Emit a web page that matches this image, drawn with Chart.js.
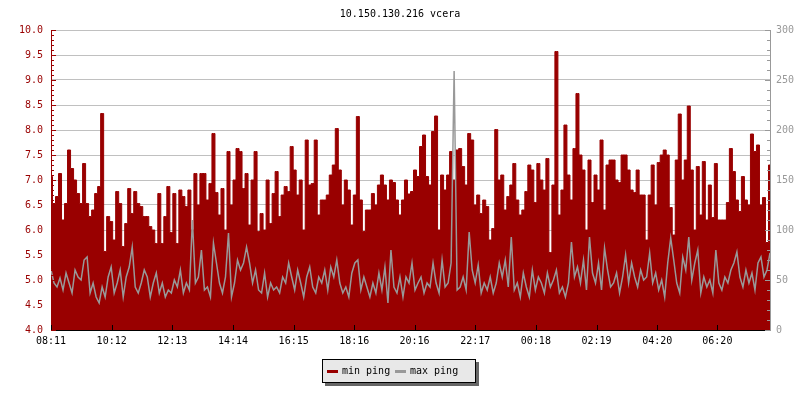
<!DOCTYPE html>
<html>
<head>
<meta charset="utf-8">
<title>10.150.130.216 vcera</title>
<script src="https://cdn.jsdelivr.net/npm/chart.js"></script>
<style>
    body { margin: 0; background: #fff; }
    #wrap { position: relative; width: 800px; height: 400px; }
    #legend {
        position: absolute; left: 322px; top: 359px;
        width: 152px; height: 22px;
        border: 1px solid #000; background: #e8e8e8;
        box-shadow: 3px 3px 0 #666;
        font: 10px "DejaVu Sans Mono", monospace; color: #000;
    }
    .item { position: absolute; top: 0; line-height: 22px; white-space: nowrap; }
    .sw { display: inline-block; width: 11px; height: 3px; vertical-align: middle; margin-right: 4px; }
</style>
</head>
<body>
<div id="wrap">
    <canvas id="pingChart" width="800" height="400"></canvas>
    <div id="legend">
        <span class="item" style="left:4px"><span class="sw" style="background:#990000"></span>min ping</span>
        <span class="item" style="left:72px"><span class="sw" style="background:#999999"></span>max ping</span>
    </div>
</div>
<script>
const title = "10.150.130.216 vcera";

// one sample every 6 minutes starting 08:11
const startTime = "08:11";
const stepMinutes = 6;

const xTickLabels = ["08:11", "10:12", "12:13", "14:14", "16:15", "18:16",
    "20:16", "22:17", "00:18", "02:19", "04:20", "06:20"];

// min ping, left axis (ms)
const minPing = [
    7.07, 6.53, 6.67, 7.13, 6.2, 6.53, 7.6, 7.23, 7.0, 6.73,
    6.53, 7.33, 6.53, 6.27, 6.4, 6.73, 6.87, 8.33, 5.57, 6.27,
    6.17, 5.8, 6.77, 6.53, 5.67, 6.13, 6.83, 6.33, 6.77, 6.53,
    6.47, 6.27, 6.27, 6.07, 6.0, 5.73, 6.73, 5.73, 6.27, 6.87,

    5.95, 6.73, 5.73, 6.8, 6.67, 6.47, 6.8, 6.0, 7.13, 6.5,
    7.13, 7.13, 6.6, 6.93, 7.93, 6.75, 6.3, 6.83, 6.0, 7.57,
    6.5, 7.0, 7.63, 7.57, 6.83, 7.13, 6.1, 7.0, 7.57, 5.97,
    6.33, 6.0, 7.0, 6.13, 6.73, 7.17, 6.27, 6.7, 6.87, 6.77,

    7.67, 7.2, 6.7, 7.0, 6.0, 7.8, 6.9, 6.93, 7.8, 6.3,
    6.6, 6.6, 6.7, 7.1, 7.3, 8.03, 7.2, 6.5, 7.0, 6.8,
    6.1, 6.7, 8.27, 6.6, 5.97, 6.4, 6.4, 6.73, 6.5, 6.9,
    7.1, 6.9, 6.6, 7.0, 6.95, 6.6, 6.3, 6.6, 7.0, 6.72,

    6.77, 7.2, 7.07, 7.67, 7.9, 7.07, 6.9, 7.97, 8.28, 6.0,
    7.1, 6.8, 7.1, 7.57, 7.0, 7.6, 7.63, 7.27, 6.9, 7.93,
    7.8, 6.5, 6.7, 6.33, 6.6, 6.47, 5.8, 6.03, 8.01, 7.0,
    7.1, 6.4, 6.67, 6.9, 7.33, 6.6, 6.3, 6.4, 6.77, 7.3,

    7.2, 6.55, 7.33, 7.0, 6.8, 7.43, 5.55, 6.9, 9.57, 6.3,
    6.8, 8.1, 7.1, 6.6, 7.63, 8.73, 7.5, 7.2, 6.0, 7.4,
    6.55, 7.1, 6.8, 7.8, 6.4, 7.3, 7.4, 7.4, 7.0, 6.95,
    7.5, 7.5, 7.2, 6.8, 6.75, 7.2, 6.7, 6.7, 5.8, 6.7,

    7.3, 6.5, 7.35, 7.5, 7.6, 7.5, 6.45, 5.9, 7.4, 8.32,
    7.0, 7.4, 8.48, 7.2, 6.0, 7.27, 6.3, 7.37, 6.2, 6.9,
    6.25, 7.33, 6.2, 6.2, 6.2, 6.55, 7.63, 7.17, 6.6, 6.37,
    7.07, 6.6, 6.5, 7.92, 7.57, 7.7, 6.5, 6.65, 5.75, 7.3
];

// max ping, right axis (ms)
const maxPing = [
    60, 47, 43, 52, 40, 57, 47, 37, 60, 53,
    50, 70, 73, 37, 47, 33, 27, 43, 33, 53,
    63, 37, 47, 60, 33, 53, 63, 83, 43, 37,
    47, 60, 53, 33, 47, 57, 37, 47, 33, 40,

    37, 50, 43, 60, 37, 47, 40, 110, 47, 53,
    80, 40, 43, 33, 87, 67, 47, 37, 53, 97,
    33, 47, 70, 60, 67, 83, 67, 47, 60, 40,
    37, 57, 33, 47, 40, 43, 37, 53, 47, 67,

    53, 40, 60, 47, 33, 53, 63, 43, 37, 53,
    47, 60, 40, 63, 53, 70, 47, 37, 43, 33,
    57, 67, 70, 40, 53, 43, 33, 47, 37, 57,
    40, 63, 27, 80, 43, 37, 53, 33, 53, 47,

    67, 40, 47, 53, 37, 47, 43, 67, 47, 37,
    70, 43, 47, 67, 259, 40, 43, 53, 40, 98,
    60, 47, 65, 37, 47, 40, 53, 37, 47, 67,
    53, 70, 43, 93, 40, 47, 33, 57, 43, 33,

    60, 40, 53, 47, 37, 57, 43, 50, 60, 37,
    43, 33, 47, 88, 53, 63, 47, 70, 40, 93,
    57, 47, 67, 40, 82, 60, 43, 47, 57, 37,
    53, 75, 47, 67, 53, 43, 60, 50, 53, 77,

    47, 57, 40, 50, 33, 67, 92, 70, 47, 37,
    73, 60, 93, 50, 67, 80, 37, 53, 43, 50,
    37, 80, 47, 40, 53, 47, 60, 67, 78, 53,
    43, 60, 47, 57, 40, 67, 73, 53, 60, 77
];

function toMinutes(t) {
    const parts = t.split(":");
    return parseInt(parts[0], 10) * 60 + parseInt(parts[1], 10);
}

const start = toMinutes(startTime);
const xTickValues = xTickLabels.map(t => (toMinutes(t) - start + 1440) % 1440);
const lastX = (minPing.length - 1) * stepMinutes;

const RED = "#990000";
const GRAY = "#999999";

Chart.defaults.font.family = '"DejaVu Sans Mono", monospace';
Chart.defaults.font.size = 10;
Chart.defaults.color = "#000";

// small tick marks drawn inside the plot, like the original
const innerTicks = {
    id: "innerTicks",
    afterDatasetsDraw(chart) {
        const ctx = chart.ctx;
        const area = chart.chartArea;
        const y = chart.scales.y;
        const y2 = chart.scales.y2;
        const x = chart.scales.x;

        ctx.save();
        ctx.lineWidth = 1;

        ctx.strokeStyle = RED;
        ctx.beginPath();
        for (let k = 40; k <= 100; k++) {
            const py = Math.round(y.getPixelForValue(k / 10)) + 0.5;
            ctx.moveTo(area.left, py);
            ctx.lineTo(area.left + (k % 5 === 0 ? 5 : 3), py);
        }
        ctx.stroke();

        ctx.strokeStyle = GRAY;
        ctx.beginPath();
        for (let k = 0; k <= 300; k += 10) {
            const py = Math.round(y2.getPixelForValue(k)) + 0.5;
            ctx.moveTo(area.right, py);
            ctx.lineTo(area.right - (k % 50 === 0 ? 5 : 3), py);
        }
        ctx.stroke();

        ctx.strokeStyle = "#000";
        ctx.beginPath();
        xTickValues.forEach(v => {
            const px = Math.round(x.getPixelForValue(v)) + 0.5;
            ctx.moveTo(px, area.bottom);
            ctx.lineTo(px, area.bottom - 5);
        });
        ctx.stroke();

        ctx.restore();
    }
};

new Chart(
    document.getElementById("pingChart"),
    {
        type: "line",

        data: {
            datasets: [
                {
                    label: "min ping",
                    data: minPing.map((v, i) => ({ x: i * stepMinutes, y: v })),
                    yAxisID: "y",
                    borderColor: RED,
                    backgroundColor: RED,
                    borderWidth: 1,
                    pointRadius: 0,
                    stepped: "middle",
                    fill: "start",
                    order: 2
                },
                {
                    label: "max ping",
                    data: maxPing.map((v, i) => ({ x: i * stepMinutes, y: v })),
                    yAxisID: "y2",
                    borderColor: GRAY,
                    borderWidth: 1.5,
                    pointRadius: 0,
                    fill: false,
                    order: 1
                }
            ]
        },

        options: {
            responsive: false,
            animation: false,
            events: [],
            layout: { padding: 0 },
            plugins: {
                legend: { display: false },
                tooltip: { enabled: false },
                title: {
                    display: true,
                    text: title,
                    color: "#000",
                    font: { size: 10, weight: "normal" },
                    padding: { top: 8, bottom: 10 }
                }
            },
            scales: {
                x: {
                    type: "linear",
                    min: 0,
                    max: lastX,
                    z: 1,
                    grid: { display: false, drawTicks: false },
                    border: { display: true, color: "#000", width: 1 },
                    afterBuildTicks: scale => {
                        scale.ticks = xTickValues.map(v => ({ value: v }));
                    },
                    afterFit: scale => { scale.height = 70; },
                    ticks: {
                        autoSkip: false,
                        maxRotation: 0,
                        padding: 5,
                        color: "#000",
                        callback: value => xTickLabels[xTickValues.indexOf(value)]
                    }
                },
                y: {
                    position: "left",
                    min: 4,
                    max: 10,
                    grid: { color: "#c0c0c0", drawTicks: false },
                    border: { display: true, color: RED, width: 1 },
                    afterFit: scale => { scale.width = 51; },
                    ticks: {
                        stepSize: 0.5,
                        padding: 8,
                        color: RED,
                        callback: v => v.toFixed(1)
                    }
                },
                y2: {
                    position: "right",
                    min: 0,
                    max: 300,
                    z: 1,
                    grid: { display: false, drawTicks: false },
                    border: { display: true, color: GRAY, width: 1 },
                    afterFit: scale => { scale.width = 30; },
                    ticks: {
                        stepSize: 50,
                        padding: 6,
                        color: GRAY
                    }
                }
            }
        },

        plugins: [innerTicks]
    }
);
</script>
</body>
</html>
